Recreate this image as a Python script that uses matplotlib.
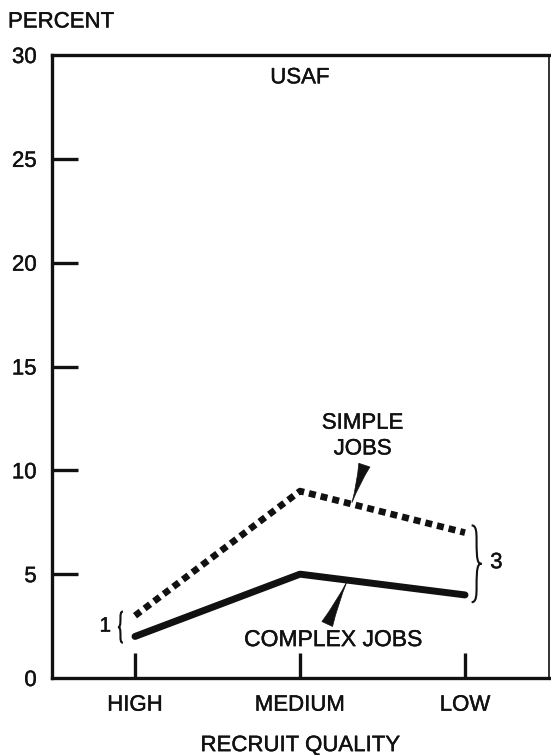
import matplotlib
matplotlib.use("Agg")
import matplotlib.pyplot as plt
from matplotlib.path import Path
from matplotlib.patches import PathPatch
import matplotlib.patheffects as pe

plt.rcParams['font.family'] = ['Liberation Sans', 'DejaVu Sans']

# ---- data ----
categories = ["HIGH", "MEDIUM", "LOW"]
simple_jobs = [3, 9, 7]
complex_jobs = [2, 5, 4]
y_ticks = [0, 5, 10, 15, 20, 25, 30]
gap_high = 1   # difference at HIGH
gap_low = 3    # difference at LOW

INK = '#111111'
heavy = [pe.withStroke(linewidth=0.3, foreground=INK)]
W, H = 551, 755
fig = plt.figure(figsize=(W / 100, H / 100), dpi=100)
ax = fig.add_axes([52 / W, 1 - 678 / H, (549 - 52) / W, (678 - 55) / H])

x = list(range(len(categories)))
ax.plot(x, complex_jobs, color=INK, lw=5, solid_capstyle='round', solid_joinstyle='round')
ax.plot(x, simple_jobs, color=INK, lw=4.8, linestyle=(0, (1.05, 0.75)), dash_capstyle='butt')

ax.set_xlim(-0.503, 2.509)
ax.set_ylim(0, 30)
ax.set_xticks(x)
ax.set_xticklabels(categories)
ax.set_yticks(y_ticks)
ax.set_yticklabels([str(v) for v in y_ticks])

ax.tick_params(axis='y', direction='in', length=19, width=2.4, labelsize=16, pad=11, colors=INK)
ax.tick_params(axis='x', direction='in', length=18, width=2.4, labelsize=16, pad=12, colors=INK)
ax.yaxis.get_major_ticks()[0].tick1line.set_visible(False)
ax.yaxis.get_major_ticks()[-1].tick1line.set_visible(False)
for lab in ax.get_xticklabels() + ax.get_yticklabels():
    lab.set_path_effects(heavy)

for s in ['left', 'bottom', 'top']:
    ax.spines[s].set_linewidth(2.4)
    ax.spines[s].set_color(INK)
ax.spines['right'].set_linewidth(1.2)
ax.spines['right'].set_color(INK)

ax.set_xlabel("RECRUIT QUALITY", fontsize=16, labelpad=14, color=INK, path_effects=heavy)
fig.text(8 / W, 1 - 22 / H, "PERCENT", fontsize=16, ha='left', va='center', color=INK,
         path_effects=heavy)

ax.text(1.0, 28.9, "USAF", fontsize=16, ha='center', va='center', color=INK, path_effects=heavy)
ax.text(1.38, 11.65, "SIMPLE\nJOBS", fontsize=16, ha='center', va='center',
        linespacing=1.3, color=INK, path_effects=heavy)
ax.text(1.2, 1.85, "COMPLEX JOBS", fontsize=16.5, ha='center', va='center', color=INK,
        path_effects=heavy)

wedge = dict(arrowstyle="wedge,tail_width=0.7,shrink_factor=0.35", fc=INK, ec=INK,
             lw=0.5, shrinkA=0, shrinkB=0)
ax.annotate("", xy=(1.315, 8.45), xytext=(1.39, 10.25), arrowprops=wedge, fontsize=12)
ax.annotate("", xy=(1.285, 4.65), xytext=(1.165, 2.6), arrowprops=wedge, fontsize=12)


def brace(ax, xb, y0, y1, w, side):
    """Vertical curly brace spanning y0..y1 at x=xb, tip pointing to `side` (+1 right, -1 left)."""
    ym = (y0 + y1) / 2
    h = (y1 - y0)
    t = xb + side * w
    verts = [(xb, y0),
             (xb + side * w * 0.5, y0), (xb + side * w * 0.5, y0 + h * 0.1), (xb + side * w * 0.5, y0 + h * 0.2),
             (xb + side * w * 0.5, ym - h * 0.05), (xb + side * w * 0.6, ym), (t, ym),
             (xb + side * w * 0.6, ym), (xb + side * w * 0.5, ym + h * 0.05), (xb + side * w * 0.5, y1 - h * 0.2),
             (xb + side * w * 0.5, y1 - h * 0.1), (xb + side * w * 0.5, y1), (xb, y1)]
    codes = [Path.MOVETO] + [Path.CURVE4] * 12
    ax.add_patch(PathPatch(Path(verts, codes), fc='none', ec=INK, lw=1.5, clip_on=False))


brace(ax, -0.073, complex_jobs[0] - 0.3, simple_jobs[0] + 0.2, 0.03, -1)
ax.text(-0.18, 2.5, str(gap_high), fontsize=15, ha='center', va='center', color=INK,
        path_effects=heavy)
brace(ax, 2.04, complex_jobs[2] - 0.35, simple_jobs[2] + 0.35, 0.06, +1)
ax.text(2.19, 5.55, str(gap_low), fontsize=16, ha='center', va='center', color=INK,
        path_effects=heavy)

fig.savefig("out.png", dpi=100)
